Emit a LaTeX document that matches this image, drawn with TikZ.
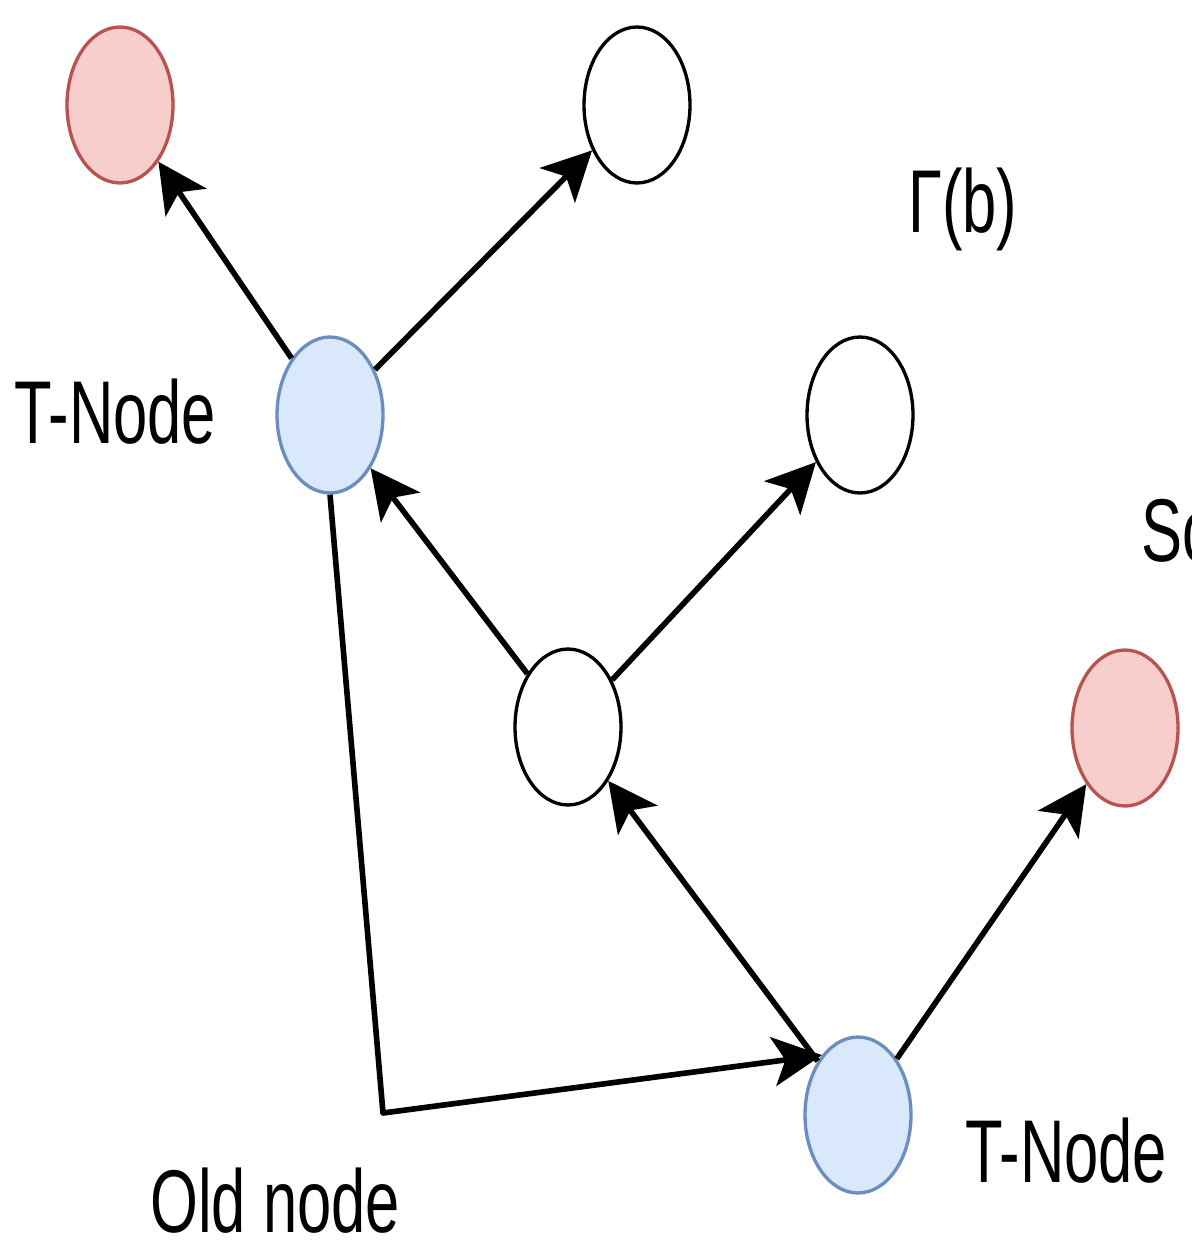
\documentclass[tikz,border=0pt]{standalone}
\usepackage{fontspec}
\setmainfont{Liberation Sans}
\usetikzlibrary{shapes.geometric,arrows.meta}
\definecolor{tfill}{HTML}{DAE8FC}
\definecolor{tline}{HTML}{6C8EBF}
\definecolor{sfill}{HTML}{F8CECC}
\definecolor{sline}{HTML}{B85450}
\newcommand{\tall}[1]{\scalebox{1}[1.45]{#1}}
\begin{document}
\begin{tikzpicture}[line join=round,x=0.02cm,y=-0.02cm,>={Stealth[length=28pt,width=28pt,inset=7pt]}]
	\tikzset{vert/.style={ellipse,draw,line width=1.9pt,minimum width=2.12cm,minimum height=3.12cm,inner sep=0pt},
		tnode/.style={vert,fill=tfill,draw=tline},
		snode/.style={vert,fill=sfill,draw=sline},
		lbl/.style={anchor=base west,inner sep=0pt,font=\fontsize{35}{40}\selectfont},
		edge/.style={->,line width=3.2pt}}
	\useasboundingbox (0,0) rectangle (1191,1253);
	\clip (0,0) rectangle (1191,1253);
	% vertices
	\node[snode] (s1) at (120,105) {};
	\node[vert] (w1) at (637,105) {};
	\node[tnode] (t1) at (330,415) {};
	\node[vert] (w2) at (860,415) {};
	\node[vert] (m) at (568,727) {};
	\node[snode] (s2) at (1125,728) {};
	\node[tnode] (t2) at (858,1115) {};
	\coordinate (bend) at (383,1113);
	% labels
	\node[lbl] (lt1) at (14,443) {\tall{T-Node}};
	\node[lbl] (lg) at (908,233) {\tall{Γ(b)}};
	\node[lbl] (ls) at (1141,561) {\tall{Sc}};
	\node[lbl] (lt2) at (965,1182) {\tall{T-Node}};
	\node[lbl] (lo) at (150,1232) {\tall{Old node}};
	% edges
	\draw[edge] (t1)--(s1);
	\draw[edge] (t1)--(w1);
	\draw[edge] (m)--(t1);
	\draw[edge] (m)--(w2);
	\draw[edge] (t2)--(m);
	\draw[edge] (t2)--(s2);
	\draw[edge] (t1.south)--(bend)--(t2.121);
\end{tikzpicture}
\end{document}
